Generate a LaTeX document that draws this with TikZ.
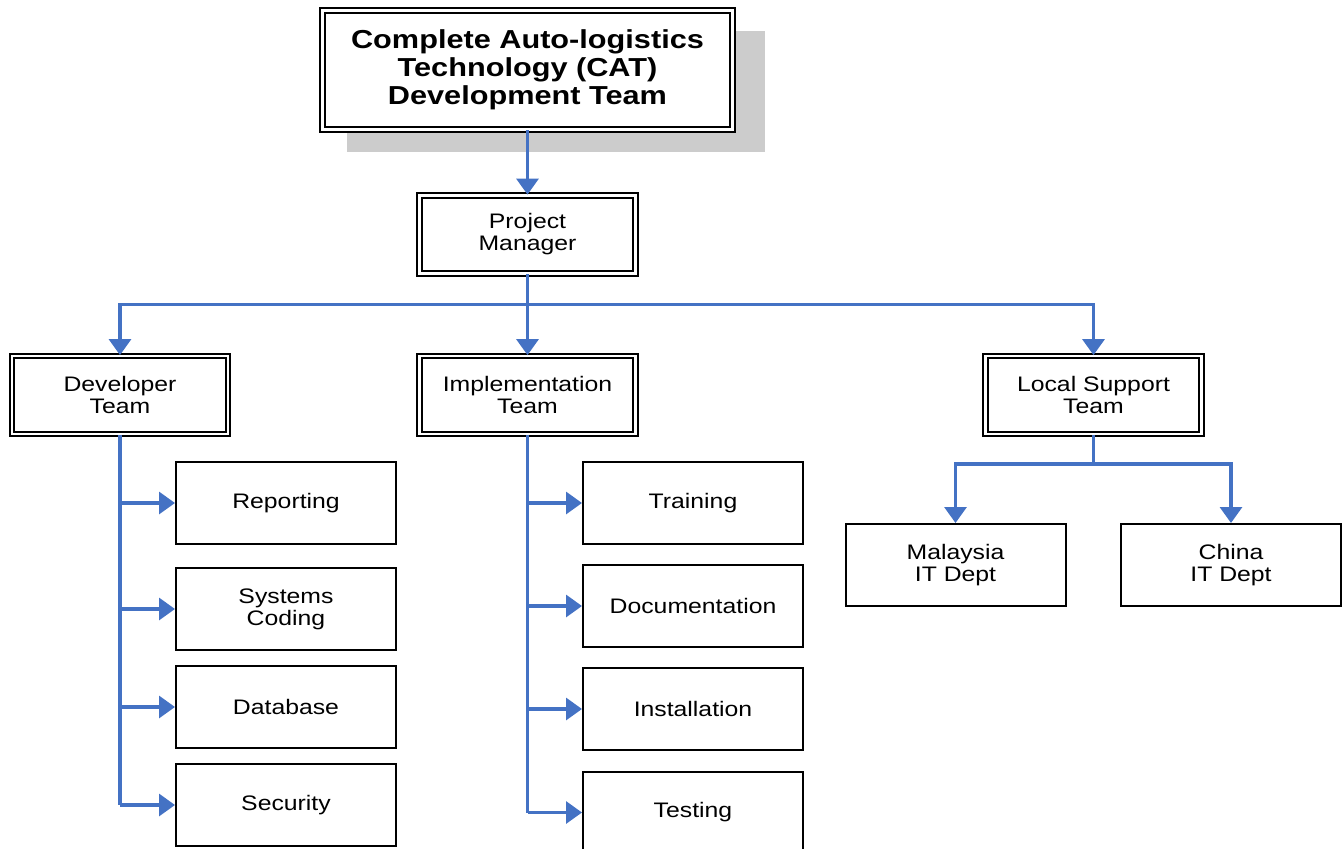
\documentclass[tikz,border=0pt]{standalone}
\usepackage{fontspec}
\setmainfont{Liberation Sans}[FakeStretch=1.18]
\usepackage{tikz}
\usetikzlibrary{arrows.meta,positioning,calc,shadows}
\definecolor{linkblue}{RGB}{68, 114, 196}
\definecolor{shadowgray}{RGB}{204, 204, 204}

\begin{document}
\begin{tikzpicture}[
    x=1pt, y=-1pt,
    box/.style={rectangle, draw, line width=2pt, fill=white, minimum width=220pt, minimum height=82pt,
                align=center, font=\fontsize{21}{22}\selectfont},
    dbox/.style={box, line width=1.8pt, double, double distance=2.6pt, minimum width=216pt, minimum height=78pt},
    link/.style={draw=linkblue, line width=3.2pt},
    flow/.style={link, -{Triangle[length=16pt,width=22pt]}}
]
\clip (0,0) rectangle (1342,849);
\useasboundingbox (0,0) rectangle (1342,849);

% Title
\node[dbox, minimum width=410pt, minimum height=119pt, font=\fontsize{26}{28}\selectfont\bfseries,
      drop shadow={shadow xshift=28pt, shadow yshift=-21pt, shadow scale=1.02, fill=shadowgray, opacity=1}]
    (cat) at (527.5,70) {Complete Auto-logistics\\Technology (CAT)\\Development Team};

% Manager and teams
\node[dbox] (pm) at (527.5,234.5) {Project\\Manager};
\node[dbox] (dev) at (120,395) {Developer\\Team};
\node[dbox] (impl) at (527.5,395) {Implementation\\Team};
\node[dbox] (local) at (1093.5,395) {Local Support\\Team};

% Developer team
\node[box] (rep) at (286,503) {Reporting};
\node[box] (code) at (286,609) {Systems\\Coding};
\node[box] (db) at (286,707) {Database};
\node[box] (sec) at (286,805) {Security};

% Implementation team
\node[box] (train) at (693,503) {Training};
\node[box] (doc) at (693,606) {Documentation};
\node[box] (inst) at (693,709) {Installation};
\node[box] (test) at (693,812.5) {Testing};

% Local support
\node[box] (my) at (955.5,565) {Malaysia\\IT Dept};
\node[box] (cn) at (1231,565) {China\\IT Dept};

% Connectors
\draw[flow] (cat.south) -- (pm.south |- cat.south) -- (pm.north);
\draw[link] (pm.south) -- ++(0,30) coordinate (bus);
\draw[flow] (bus) -| (dev.north);
\draw[flow] (bus) -- (impl.north);
\draw[flow] (bus) -| (local.north);

\draw[link] (dev.south) -- (dev.south |- sec.west);
\foreach \n in {rep,code,db,sec}
    \draw[flow] (dev.south |- \n.west) -- (\n.west);

\draw[link] (impl.south) -- (impl.south |- test.west);
\foreach \n in {train,doc,inst,test}
    \draw[flow] (impl.south |- \n.west) -- (\n.west);

\draw[link] (local.south) -- ++(0,29) coordinate (sup);
\draw[flow] (sup) -| (my.north);
\draw[flow] (sup) -| (cn.north);

\end{tikzpicture}
\end{document}
